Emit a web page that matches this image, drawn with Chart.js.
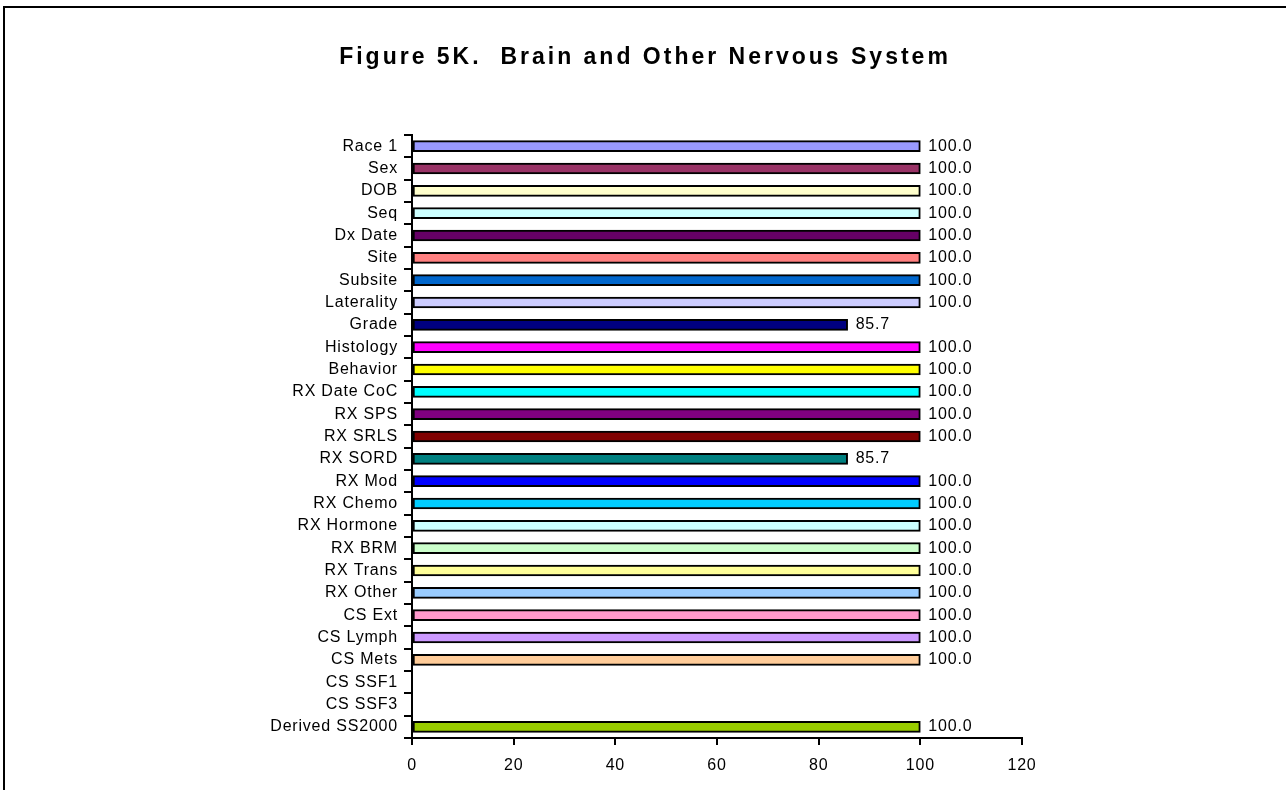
<!DOCTYPE html>
<html>
<head>
<meta charset="utf-8">
<script src="https://cdn.jsdelivr.net/npm/chart.js@4"></script>
<style>
  html, body { margin: 0; padding: 0; background: #fff; }
  #wrap { position: relative; width: 1286px; height: 790px; overflow: hidden; }
  #frame { position: absolute; left: 3px; top: 6px; width: 1400px; height: 900px;
           border-top: 2px solid #000; border-left: 2px solid #000; }
  canvas { position: absolute; left: 0; top: 0; }
</style>
</head>
<body>
<div id="wrap">
  <div id="frame"></div>
  <canvas id="chart" width="1286" height="790"></canvas>
</div>
<script>
// data
const categories = ['Race 1', 'Sex', 'DOB', 'Seq', 'Dx Date', 'Site', 'Subsite', 'Laterality', 'Grade',
  'Histology', 'Behavior', 'RX Date CoC', 'RX SPS', 'RX SRLS', 'RX SORD', 'RX Mod', 'RX Chemo',
  'RX Hormone', 'RX BRM', 'RX Trans', 'RX Other', 'CS Ext', 'CS Lymph', 'CS Mets', 'CS SSF1',
  'CS SSF3', 'Derived SS2000'];
const values = [100, 100, 100, 100, 100, 100, 100, 100, 85.7,
  100, 100, 100, 100, 100, 85.7, 100, 100,
  100, 100, 100, 100, 100, 100, 100, null,
  null, 100];
const barColors = ['#9999FF', '#993366', '#FFFFCC', '#CCFFFF', '#660066', '#FF8080', '#0066CC', '#CCCCFF', '#000080',
  '#FF00FF', '#FFFF00', '#00FFFF', '#800080', '#800000', '#008080', '#0000FF', '#00CCFF',
  '#CCFFFF', '#CCFFCC', '#FFFF99', '#99CCFF', '#FF99CC', '#CC99FF', '#FFCC99', '#FFFFFF',
  '#FFFFFF', '#99CC00'];
const xTicks = [0, 20, 40, 60, 80, 100, 120];
const titleText = 'Figure 5K.  Brain and Other Nervous System';

const FONT = 'Arial, "Liberation Sans", sans-serif';
const SPACING = '0.8px';

// Excel-ish letter spacing for axis text
const spacingPlugin = {
  id: 'spacing',
  beforeLayout(chart) { chart.ctx.letterSpacing = SPACING; },
  beforeDraw(chart) { chart.ctx.letterSpacing = SPACING; }
};

const titlePlugin = {
  id: 'figTitle',
  afterDraw(chart) {
    const ctx = chart.ctx;
    ctx.save();
    ctx.letterSpacing = '3px';
    ctx.font = 'bold 23px ' + FONT;
    ctx.fillStyle = '#000';
    ctx.textAlign = 'center';
    ctx.textBaseline = 'middle';
    ctx.fillText(titleText, 645, 58);
    ctx.restore();
  }
};

const valueLabels = {
  id: 'valueLabels',
  afterDatasetsDraw(chart) {
    const ctx = chart.ctx;
    const meta = chart.getDatasetMeta(0);
    ctx.save();
    ctx.letterSpacing = SPACING;
    ctx.font = '16px ' + FONT;
    ctx.fillStyle = '#000';
    ctx.textAlign = 'left';
    ctx.textBaseline = 'middle';
    meta.data.forEach((bar, i) => {
      if (values[i] == null) return;
      ctx.fillText(values[i].toFixed(1), bar.x + 8, bar.y);
    });
    ctx.restore();
  }
};

const ctx = document.getElementById('chart').getContext('2d');
new Chart(ctx, {
  type: 'bar',
  data: {
    labels: categories,
    datasets: [{
      data: values,
      backgroundColor: barColors,
      borderColor: '#000',
      borderWidth: 2,
      borderSkipped: false,
      barThickness: 11
    }]
  },
  options: {
    indexAxis: 'y',
    responsive: false,
    animation: false,
    events: [],
    layout: { padding: { left: 262, right: 264, top: 135, bottom: 12 } },
    plugins: { legend: { display: false }, tooltip: { enabled: false }, title: { display: false } },
    scales: {
      x: {
        min: 0,
        max: 120,
        afterBuildTicks: s => { s.ticks = xTicks.map(v => ({ value: v })); },
        afterFit: s => { s.height = 40; },
        grid: { drawOnChartArea: false, drawTicks: true, tickLength: 7, color: '#000', lineWidth: 2 },
        border: { display: true, color: '#000', width: 2 },
        ticks: { color: '#000', font: { family: FONT, size: 16 }, padding: 11, maxRotation: 0 }
      },
      y: {
        afterFit: s => { s.width = 150; },
        grid: { drawOnChartArea: false, drawTicks: true, tickLength: 8, color: '#000', lineWidth: 2, offset: true },
        border: { display: true, color: '#000', width: 2 },
        ticks: { color: '#000', font: { family: FONT, size: 16 }, padding: 6, autoSkip: false }
      }
    }
  },
  plugins: [spacingPlugin, titlePlugin, valueLabels]
});
</script>
</body>
</html>
